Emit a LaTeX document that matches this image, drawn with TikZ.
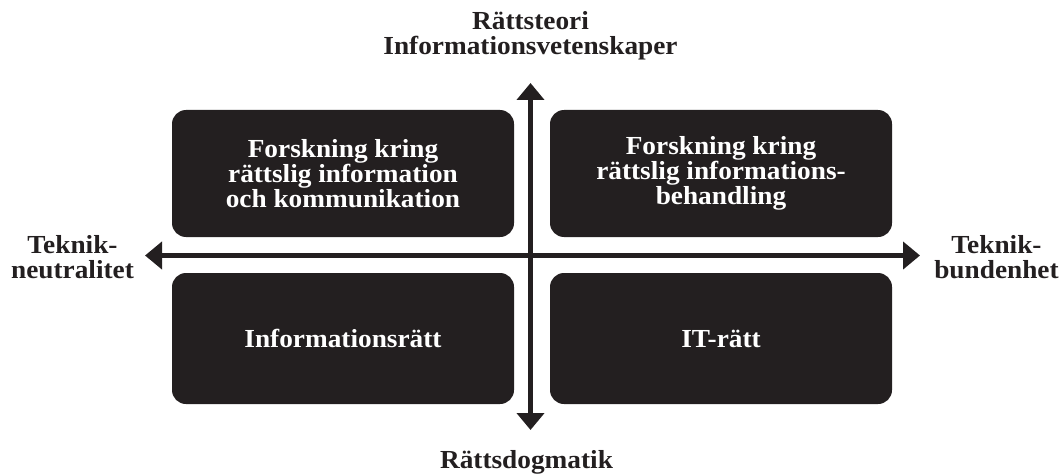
\documentclass[tikz,border=0pt]{standalone}
\usepackage{fontspec}
\setmainfont{Liberation Serif}[FakeStretch=1.05]
\usetikzlibrary{arrows.meta}
\definecolor{ink}{HTML}{231F20}
\begin{document}
\begin{tikzpicture}[x=1pt,y=-1pt,
  quad/.style={fill=ink,draw=none,rounded corners=14pt,minimum width=342pt,inner sep=0pt,
    text=white,align=center,font=\fontsize{26}{25}\selectfont\bfseries},
  axislabel/.style={text=ink,align=center,inner sep=0pt,font=\fontsize{26}{25}\selectfont\bfseries},
  axis/.style={draw=ink,line width=4.6pt,-{Triangle[length=17pt,width=27pt]}}]
\useasboundingbox (0,0) rectangle (1062,476);
\node[quad,minimum height=127pt] (tl) at (343,173.5) {Forskning kring\\rättslig information\\och kommunikation};
\node[quad,minimum height=127pt] (tr) at (721,173.5) {Forskning kring\\rättslig informations-\\behandling};
\node[quad,minimum height=131pt] (bl) at (343,338.5) {Informationsrätt};
\node[quad,minimum height=131pt] (br) at (721,338.5) {IT-rätt};
\coordinate (top) at (530.5,83);
\coordinate (bottom) at (530.5,430);
\coordinate (left) at (145,255.5);
\coordinate (right) at (920,255.5);
\coordinate (center) at (530.5,255.5);
\draw[axis] (center) -- (top);
\draw[axis] (center) -- (bottom);
\draw[axis] (center) -- (left);
\draw[axis] (center) -- (right);
\node[axislabel] (ltop) at (530.5,36) {Rättsteori\\Informationsvetenskaper};
\node[axislabel] (lleft) at (72.5,257) {Teknik-\\neutralitet};
\node[axislabel] (lright) at (996.5,257) {Teknik-\\bundenhet};
\node[axislabel] (lbottom) at (526.5,462) {Rättsdogmatik};
\end{tikzpicture}
\end{document}
